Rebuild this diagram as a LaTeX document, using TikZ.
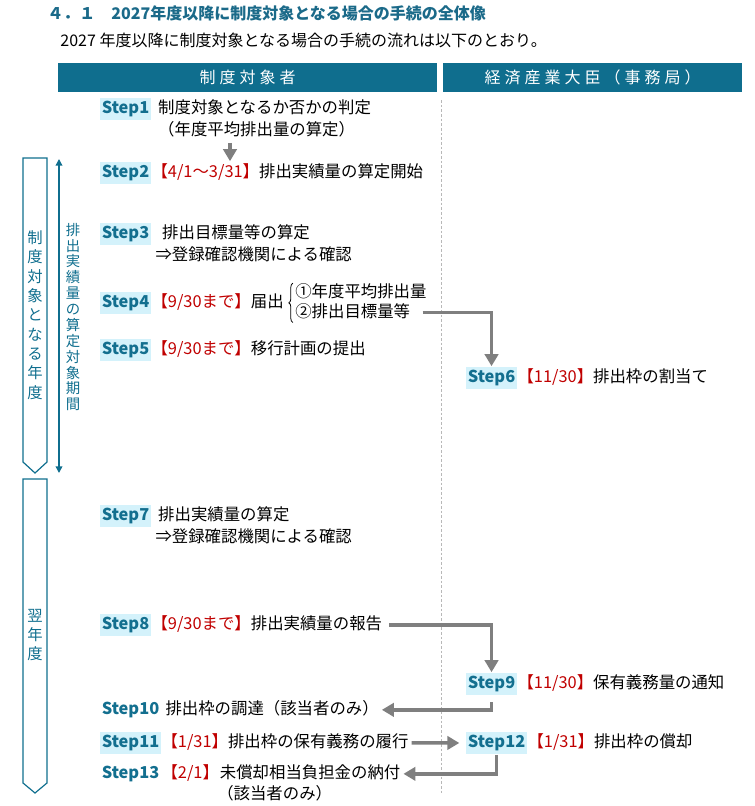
\documentclass[tikz,border=0pt]{standalone}
\usepackage{fontspec}
\setmainfont{Noto Sans CJK JP}
\usepackage{xcolor}
\usetikzlibrary{arrows.meta,positioning,decorations.pathreplacing}
\definecolor{LaneTeal}{HTML}{0F6E8E}
\definecolor{TitleTeal}{HTML}{1B6A89}
\definecolor{StepBlue}{HTML}{136F8F}
\definecolor{StepBg}{HTML}{D4F2FB}
\definecolor{DateRed}{HTML}{C00000}
\definecolor{ArrowGray}{HTML}{7F7F7F}
\newcommand\deadline[1]{{\color{DateRed}#1}}
\newcommand\ls{\hspace{3pt}}
\tikzset{
  every picture/.style={line width=0.72pt},
  titletxt/.style={font=\fontsize{12}{14}\selectfont\bfseries, text=TitleTeal, inner sep=0pt},
  subtxt/.style={font=\fontsize{12}{14}\selectfont, inner sep=0pt},
  lanebar/.style={fill=LaneTeal, text=white, font=\fontsize{12}{14}\selectfont,
    minimum height=21.75pt, inner sep=0pt},
  lanesep/.style={draw=black!28, dash pattern=on 2pt off 1.5pt, line width=0.5pt},
  yearbox/.style={draw=LaneTeal, line width=0.9pt},
  yeartxt/.style={text=LaneTeal, align=center, inner sep=0pt,
    font=\fontsize{11.5}{14.5}\selectfont},
  periodtxt/.style={yeartxt, font=\fontsize{10.8}{11.9}\selectfont},
  periodarrow/.style={{Triangle[length=5pt,width=5pt]}-{Triangle[length=5pt,width=5pt]},
    draw=LaneTeal, line width=1.1pt},
  steplbl/.style={font=\fontsize{12.3}{14}\selectfont\bfseries, text=StepBlue,
    inner xsep=1pt, inner ysep=0pt, minimum height=17pt, anchor=west},
  stephl/.style={steplbl, fill=StepBg},
  stepbody/.style={font=\fontsize{12.3}{15}\selectfont, text height=9.5pt,
    text depth=2.5pt, inner xsep=0pt, inner ysep=1pt},
  flowarrow/.style={-{Triangle[length=9pt,width=10pt]}, draw=ArrowGray, line width=2.6pt},
  bracebar/.style={decorate, decoration={brace, amplitude=3pt}, line width=0.6pt}
}

\begin{document}
\begin{tikzpicture}[x=0.75pt,y=-0.75pt]
  \useasboundingbox (0,0) rectangle (754,806);

  \node[titletxt, anchor=west] (ttl) at (47,13) {４．１　2027年度以降に制度対象となる場合の手続の全体像};
  \node[subtxt, anchor=west] (sub) at (60,40) {2027 年度以降に制度対象となる場合の手続の流れは以下のとおり。};

  % lanes
  \node[lanebar, minimum width=284.25pt] (laneL) at (247.5,77.5) {制\ls 度\ls 対\ls 象\ls 者};
  \node[lanebar, minimum width=224.25pt] (laneR) at (592.5,77.5) {経\ls 済\ls 産\ls 業\ls 大\ls 臣\ls （\ls 事\ls 務\ls 局\ls ）};
  \draw[lanesep] (441,100) -- (441,795);

  % years
  \draw[yearbox] (23,158) -- (47,158) -- (47,462) -- (35,473) -- (23,462) -- cycle;
  \node[yeartxt] (yr1) at (35,315) {制\\度\\対\\象\\と\\な\\る\\年\\度};
  \draw[yearbox] (23,479) -- (47,479) -- (47,783) -- (35,793) -- (23,783) -- cycle;
  \node[yeartxt] (yr2) at (35,635) {翌\\年\\度};
  \coordinate (p1) at (59,159);
  \coordinate (p2) at (59,473);
  \draw[periodarrow] (p1) -- (p2);
  \node[periodtxt] (per) at (73,317) {排\\出\\実\\績\\量\\の\\算\\定\\対\\象\\期\\間};

  % company side
  \node[stephl] (s1) at (100,109) {Step1};
  \node[stepbody, base right=5pt of s1] (s1t) {制度対象となるか否かの判定};
  \node[stepbody, below right=1.5pt and 0pt of s1t.south west] (s1b) {（年度平均排出量の算定）};

  \node[stephl] (s2) at (100,173) {Step2};
  \node[stepbody, base right=0pt of s2] (s2t) {\deadline{【4/1～3/31】}排出実績量の算定開始};

  \coordinate (a1) at (230,143);
  \draw[flowarrow] (a1) -- (a1 |- s2.north);

  \node[stephl] (s3) at (100,234) {Step3};
  \node[stepbody, base right=8pt of s3] (s3t) {排出目標量等の算定};
  \node[stepbody, below right=1.5pt and -5pt of s3t.south west] (s3b) {⇒登録確認機関による確認};

  \node[stephl] (s4) at (100,303) {Step4};
  \node[stepbody, base right=0pt of s4] (s4t) {\deadline{【9/30まで】}届出};
  \node[stepbody, above right=0pt and 8pt of s4t.east] (s4a) {①年度平均排出量};
  \node[stepbody, below right=0pt and 8pt of s4t.east] (s4b) {②排出目標量等};
  \draw[bracebar] ([xshift=-1.5pt]s4b.south west) -- ([xshift=-1.5pt]s4a.north west);

  \node[stephl] (s5) at (100,350) {Step5};
  \node[stepbody, base right=0pt of s5] (s5t) {\deadline{【9/30まで】}移行計画の提出};

  \node[stephl] (s7) at (100,516) {Step7};
  \node[stepbody, base right=5pt of s7] (s7t) {排出実績量の算定};
  \node[stepbody, below right=1.5pt and -2pt of s7t.south west] (s7b) {⇒登録確認機関による確認};

  \node[stephl] (s8) at (100,625) {Step8};
  \node[stepbody, base right=0pt of s8] (s8t) {\deadline{【9/30まで】}排出実績量の報告};

  \node[steplbl] (s10) at (100,710) {Step10};
  \node[stepbody, base right=3pt of s10] (s10t) {排出枠の調達（該当者のみ）};

  \node[stephl] (s11) at (100,743) {Step11};
  \node[stepbody, base right=0pt of s11] (s11t) {\deadline{【1/31】}排出枠の保有義務の履行};

  \node[steplbl] (s13) at (100,774) {Step13};
  \node[stepbody, base right=0pt of s13] (s13d) {\deadline{【2/1】}};
  \node[stepbody, base right=0pt of s13d] (s13t) {未償却相当負担金の納付};
  \node[stepbody, below right=1pt and -2pt of s13t.south west] (s13b) {（該当者のみ）};

  % ministry side
  \node[stephl] (s6) at (466,378) {Step6};
  \node[stepbody, base right=0pt of s6] (s6t) {\deadline{【11/30】}排出枠の割当て};

  \node[stephl] (s9) at (466,684) {Step9};
  \node[stepbody, base right=0pt of s9] (s9t) {\deadline{【11/30】}保有義務量の通知};

  \node[stephl] (s12) at (466,743) {Step12};
  \node[stepbody, base right=0pt of s12] (s12t) {\deadline{【1/31】}排出枠の償却};

  \draw[flowarrow, shorten <=9pt] (s4b.east) -| (s6.north);
  \draw[flowarrow, shorten <=5pt] (s8t.east) -| (s9.north);
  \draw[flowarrow, shorten <=5pt, shorten >=2pt] (s9.south) |- (s10t.east);
  \draw[flowarrow, shorten <=2pt, shorten >=5pt] (s11t.east) -- (s12.west);
  \draw[flowarrow, shorten >=2pt] (s12.south) |- (s13t.east);
\end{tikzpicture}
\end{document}
